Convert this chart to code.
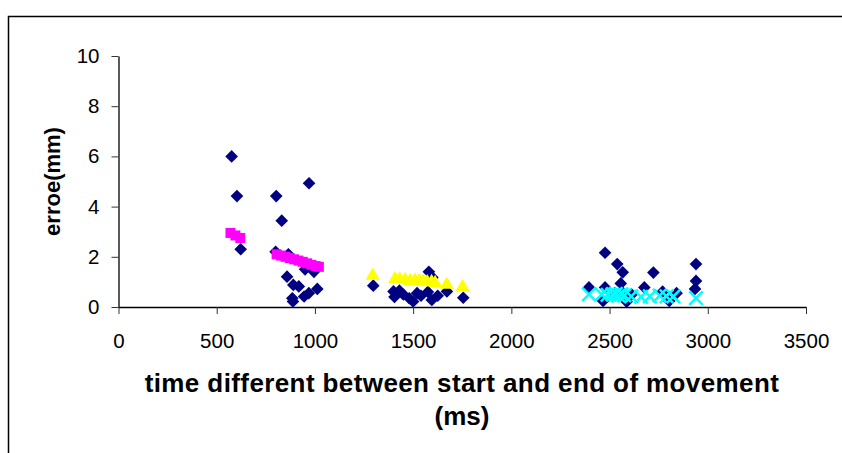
<!DOCTYPE html>
<html>
<head>
<meta charset="utf-8">
<script src="https://cdn.jsdelivr.net/npm/d3@7"></script>
<style>
  body { margin: 0; background: #fff; }
  text { font-family: "Liberation Sans", Arial, sans-serif; }
</style>
</head>
<body>
<div id="chart"></div>
<script>
const width = 842;
const height = 453;
const margin = { top: 56, right: 36, bottom: 146, left: 118.5 };

// series 1: navy diamonds [ms, mm]
const navyTime = [576, 603, 622, 803, 831, 970, 800, 865, 950, 995, 858, 890, 918, 969, 945, 1012, 885, 888,
  1297, 1400, 1405, 1430, 1450, 1480, 1500, 1520, 1540, 1575, 1580, 1598, 1595, 1625, 1672, 1755,
  2395, 2477, 2467, 2477, 2528, 2539, 2557, 2562, 2567, 2587, 2613, 2677, 2723, 2770, 2804, 2841, 2935, 2940, 2940];
const navyErr = [6.0, 4.42, 2.3, 4.42, 3.44, 4.93, 2.2, 2.1, 1.5, 1.4, 1.21, 0.88, 0.82, 0.55, 0.42, 0.72, 0.35, 0.22,
  0.85, 0.62, 0.4, 0.65, 0.5, 0.35, 0.22, 0.55, 0.45, 0.6, 1.4, 1.18, 0.28, 0.45, 0.62, 0.37,
  0.78, 2.16, 0.24, 0.78, 0.55, 1.71, 0.94, 0.61, 1.38, 0.21, 0.5, 0.78, 1.37, 0.61, 0.24, 0.55, 0.72, 1.71, 1.04];

// series 2: magenta squares
const pinkTime = [570, 595, 620, 805, 828, 850, 872, 894, 916, 938, 960, 982, 1004, 1020];
const pinkErr = [2.95, 2.85, 2.75, 2.1, 2.05, 2.0, 1.95, 1.9, 1.85, 1.8, 1.74, 1.68, 1.63, 1.6];

// series 3: yellow triangles
const yellowTime = [1294, 1408, 1432, 1459, 1485, 1510, 1532, 1552, 1572, 1594, 1612, 1671, 1752];
const yellowErr = [1.21, 1.08, 1.06, 1.04, 1.0, 1.02, 1.0, 0.98, 0.95, 0.96, 0.92, 0.85, 0.76];

// series 4: cyan crosses
const cyanTime = [2395, 2460, 2490, 2515, 2532, 2545, 2560, 2575, 2610, 2660, 2705, 2755, 2790, 2825, 2940];
const cyanErr = [0.5, 0.5, 0.48, 0.5, 0.52, 0.45, 0.5, 0.46, 0.42, 0.4, 0.42, 0.45, 0.42, 0.42, 0.35];

const xTicks = [0, 500, 1000, 1500, 2000, 2500, 3000, 3500];
const yTicks = [0, 2, 4, 6, 8, 10];

const zip = (a, b) => a.map((d, i) => ({ t: d, e: b[i] }));

const svg = d3
  .select("#chart")
  .append("svg")
  .attr("width", width)
  .attr("height", height);

// chart area frame (runs off the right and bottom)
svg
  .append("rect")
  .attr("x", 8.5)
  .attr("y", 16.5)
  .attr("width", width + 20)
  .attr("height", height + 20)
  .attr("fill", "none")
  .attr("stroke", "#000")
  .attr("stroke-width", 1.5);

let x = d3
  .scaleLinear()
  .domain([0, 3500])
  .range([margin.left, width - margin.right]);

let y = d3
  .scaleLinear()
  .domain([0, 10])
  .range([height - margin.bottom, margin.top]);

const gx = svg
  .append("g")
  .attr("transform", `translate(0,${height - margin.bottom})`)
  .call(
    d3
      .axisBottom(x)
      .tickValues(xTicks)
      .tickFormat(d3.format("d"))
      .tickSize(7)
      .tickSizeOuter(0)
      .tickPadding(19)
  );

const gy = svg
  .append("g")
  .attr("transform", `translate(${margin.left},0)`)
  .call(
    d3
      .axisLeft(y)
      .tickValues(yTicks)
      .tickFormat(d3.format("d"))
      .tickSize(7)
      .tickSizeOuter(0)
      .tickPadding(12)
  );

[gx, gy].forEach((g) => {
  g.select(".domain").attr("stroke", "#000").attr("stroke-width", 1.3);
  g.selectAll(".tick line").attr("stroke", "#333").attr("stroke-width", 1);
  g.selectAll(".tick text")
    .attr("fill", "#000")
    .style("font-size", "20.5px")
    .style("font-family", "'Liberation Sans', Arial, sans-serif");
});

// markers, in series order
const diamond = d3.symbol().type(d3.symbolSquare).size(80);
svg
  .append("g")
  .selectAll("path")
  .data(zip(navyTime, navyErr))
  .join("path")
  .attr("d", diamond)
  .attr("transform", (d) => `translate(${x(d.t)},${y(d.e)}) rotate(45)`)
  .attr("fill", "#000080");

const square = d3.symbol().type(d3.symbolSquare).size(100);
svg
  .append("g")
  .selectAll("path")
  .data(zip(pinkTime, pinkErr))
  .join("path")
  .attr("d", square)
  .attr("transform", (d) => `translate(${x(d.t)},${y(d.e)})`)
  .attr("fill", "#ff00ff");

const triangle = d3.symbol().type(d3.symbolTriangle).size(85);
svg
  .append("g")
  .selectAll("path")
  .data(zip(yellowTime, yellowErr))
  .join("path")
  .attr("d", triangle)
  .attr("transform", (d) => `translate(${x(d.t)},${y(d.e) - 1})`)
  .attr("fill", "#ffff00");

const cross = d3.symbol().type(d3.symbolX).size(120);
svg
  .append("g")
  .selectAll("path")
  .data(zip(cyanTime, cyanErr))
  .join("path")
  .attr("d", cross)
  .attr("transform", (d) => `translate(${x(d.t)},${y(d.e)})`)
  .attr("fill", "none")
  .attr("stroke", "#00ffff")
  .attr("stroke-width", 2.5);

// axis titles
svg
  .append("text")
  .attr("transform", `translate(60,${(y(0) + y(10)) / 2}) rotate(-90)`)
  .attr("text-anchor", "middle")
  .style("font-size", "22px")
  .style("font-weight", "bold")
  .text("erroe(mm)");

svg
  .append("text")
  .attr("x", 462)
  .attr("y", 392)
  .attr("text-anchor", "middle")
  .style("font-size", "26px")
  .style("font-weight", "bold")
  .style("letter-spacing", "0.4px")
  .text("time different between start and end of movement");

svg
  .append("text")
  .attr("x", 462)
  .attr("y", 425)
  .attr("text-anchor", "middle")
  .style("font-size", "26px")
  .style("font-weight", "bold")
  .text("(ms)");
</script>
</body>
</html>
